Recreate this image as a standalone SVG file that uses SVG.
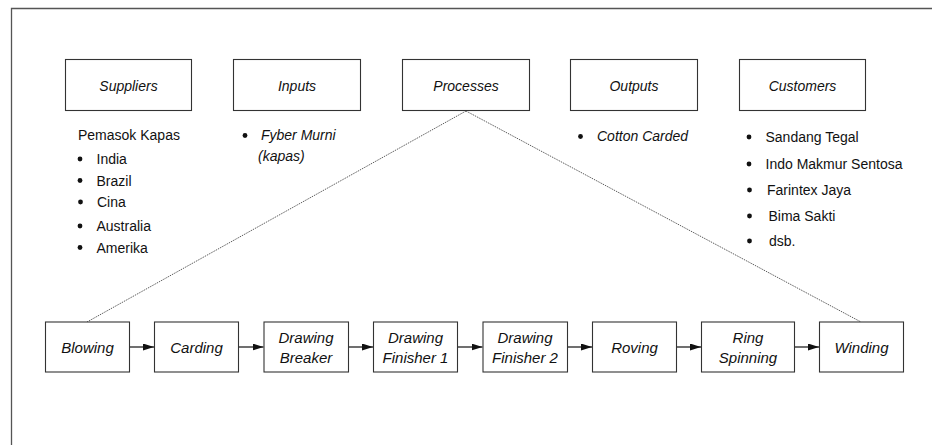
<svg xmlns="http://www.w3.org/2000/svg" width="932" height="445" viewBox="0 0 932 445">
<defs>
<style>
.box{fill:#fff;stroke:#333;stroke-width:1.1}
.t{font-family:"Liberation Sans",Arial,sans-serif;font-size:14px;fill:#111}
.i{font-style:italic}
.b{font-size:15px}
.m{text-anchor:middle}
.dot{fill:#111}
.dash{stroke:#333;stroke-width:0.8;stroke-dasharray:1.5 1;fill:none}
.arr{stroke:#111;stroke-width:1.2;fill:none;marker-end:url(#ah)}
</style>
<marker id="ah" markerWidth="11" markerHeight="7" refX="11" refY="3.5" orient="auto" markerUnits="userSpaceOnUse">
<path d="M0,0 L11,3.5 L0,7 Z" fill="#111"/>
</marker>
</defs>
<rect width="932" height="445" fill="#fff"/>
<path d="M11.5,450 L11.5,8.5 L940,8.5" fill="none" stroke="#555" stroke-width="1.3"/>

<g id="connectors">
<line class="dash" x1="466" y1="111" x2="87" y2="322"/>
<line class="dash" x1="466" y1="111" x2="861" y2="322"/>
<line class="arr" x1="129.5" y1="347" x2="154" y2="347"/>
<line class="arr" x1="238.5" y1="347" x2="263.5" y2="347"/>
<line class="arr" x1="348.5" y1="347" x2="373" y2="347"/>
<line class="arr" x1="457.5" y1="347" x2="482.5" y2="347"/>
<line class="arr" x1="567.5" y1="347" x2="592" y2="347"/>
<line class="arr" x1="676.5" y1="347" x2="701" y2="347"/>
<line class="arr" x1="794.5" y1="347" x2="819" y2="347"/>
</g>

<g id="suppliers">
<rect class="box" x="65.5" y="59.5" width="126" height="51"/>
<text class="t i m" x="128.5" y="91">Suppliers</text>
</g>
<g id="inputs">
<rect class="box" x="233.5" y="59.5" width="127" height="51"/>
<text class="t i m" x="297" y="91">Inputs</text>
</g>
<g id="processes">
<rect class="box" x="402.5" y="59.5" width="127" height="51"/>
<text class="t i m" x="466" y="91">Processes</text>
</g>
<g id="outputs">
<rect class="box" x="570.5" y="59.5" width="127" height="51"/>
<text class="t i m" x="634" y="91">Outputs</text>
</g>
<g id="customers">
<rect class="box" x="739.5" y="59.5" width="126" height="51"/>
<text class="t i m" x="802.5" y="91">Customers</text>
</g>

<g id="suppliers-list">
<text class="t" x="78" y="140">Pemasok Kapas</text>
<circle class="dot" cx="80" cy="159" r="2.4"/><text class="t" x="96.5" y="164">India</text>
<circle class="dot" cx="80" cy="180.5" r="2.4"/><text class="t" x="96.5" y="185.5">Brazil</text>
<circle class="dot" cx="80.5" cy="202" r="2.4"/><text class="t" x="97" y="207">Cina</text>
<circle class="dot" cx="80" cy="226" r="2.4"/><text class="t" x="96.5" y="231">Australia</text>
<circle class="dot" cx="80" cy="247.5" r="2.4"/><text class="t" x="96.5" y="252.5">Amerika</text>
</g>
<g id="inputs-list">
<circle class="dot" cx="245" cy="135.5" r="2.4"/>
<text class="t i" x="261" y="140">Fyber Murni</text>
<text class="t i" x="258" y="161">(kapas)</text>
</g>
<g id="outputs-list">
<circle class="dot" cx="580.5" cy="136.5" r="2.4"/>
<text class="t i" x="597" y="141">Cotton Carded</text>
</g>
<g id="customers-list">
<circle class="dot" cx="749" cy="137" r="2.4"/><text class="t" x="765.5" y="142">Sandang Tegal</text>
<circle class="dot" cx="749" cy="164" r="2.4"/><text class="t" x="765.5" y="169">Indo Makmur Sentosa</text>
<circle class="dot" cx="749.5" cy="190" r="2.4"/><text class="t" x="767" y="195">Farintex Jaya</text>
<circle class="dot" cx="749.5" cy="216" r="2.4"/><text class="t" x="768.5" y="221">Bima Sakti</text>
<circle class="dot" cx="749.5" cy="241" r="2.4"/><text class="t" x="769" y="246">dsb.</text>
</g>

<g id="blowing">
<rect class="box" x="45.5" y="322" width="84" height="50"/>
<text class="t i b m" x="87.5" y="353">Blowing</text>
</g>
<g id="carding">
<rect class="box" x="154.5" y="322" width="84" height="50"/>
<text class="t i b m" x="196.5" y="353">Carding</text>
</g>
<g id="drawing-breaker">
<rect class="box" x="264" y="322" width="84.5" height="50"/>
<text class="t i b m" x="306" y="343">Drawing</text>
<text class="t i b m" x="306" y="362.5">Breaker</text>
</g>
<g id="drawing-finisher-1">
<rect class="box" x="373.5" y="322" width="84" height="50"/>
<text class="t i b m" x="415.5" y="343">Drawing</text>
<text class="t i b m" x="415.5" y="362.5">Finisher 1</text>
</g>
<g id="drawing-finisher-2">
<rect class="box" x="483" y="322" width="84.5" height="50"/>
<text class="t i b m" x="525" y="343">Drawing</text>
<text class="t i b m" x="525" y="362.5">Finisher 2</text>
</g>
<g id="roving">
<rect class="box" x="592.5" y="322" width="84" height="50"/>
<text class="t i b m" x="634.5" y="353">Roving</text>
</g>
<g id="ring-spinning">
<rect class="box" x="701.5" y="322" width="93" height="50"/>
<text class="t i b m" x="748" y="343">Ring</text>
<text class="t i b m" x="748" y="362.5">Spinning</text>
</g>
<g id="winding">
<rect class="box" x="819.5" y="322" width="84" height="50"/>
<text class="t i b m" x="861.5" y="353">Winding</text>
</g>
</svg>
